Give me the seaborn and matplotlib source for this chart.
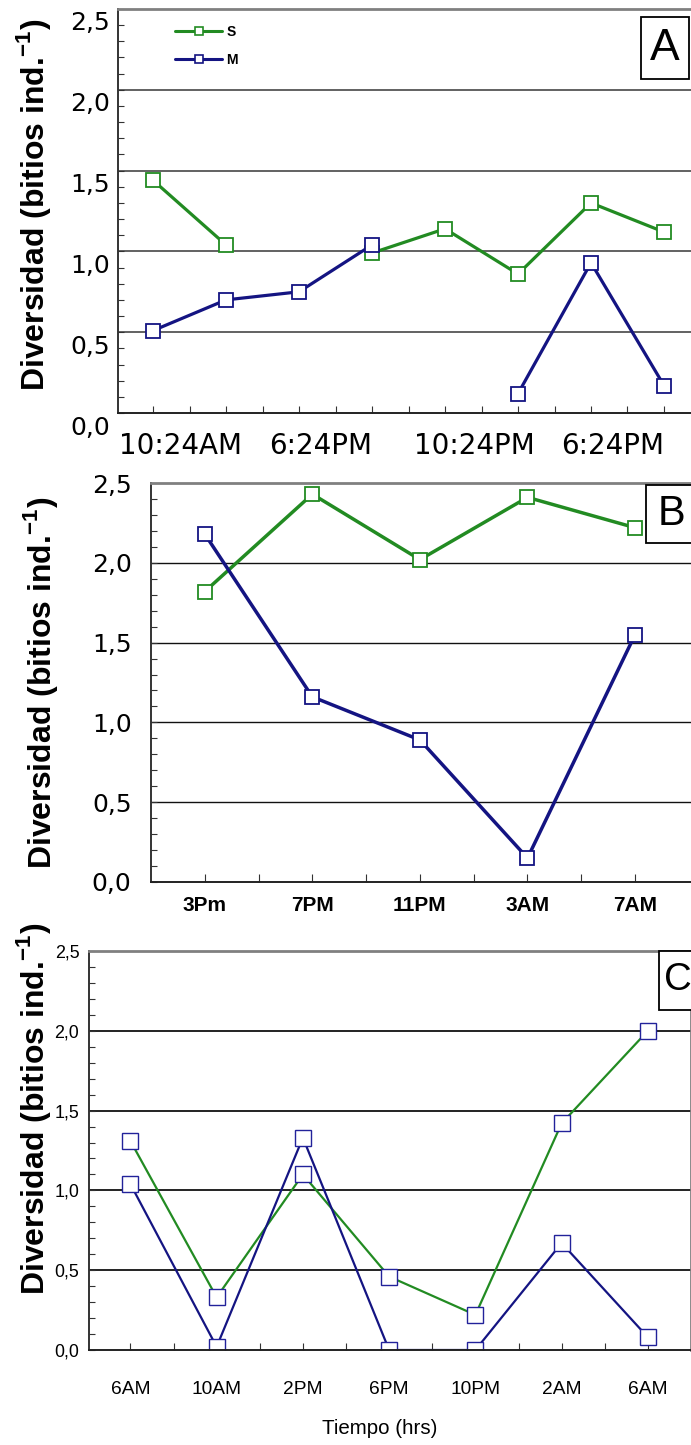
import numpy as np
import pandas as pd
import matplotlib
matplotlib.use("Agg")
import matplotlib.pyplot as plt
import seaborn as sns
from matplotlib import font_manager
from matplotlib.lines import Line2D
from matplotlib.patches import Rectangle
from matplotlib.transforms import ScaledTranslation

# ---------------- data ----------------
# Panel A
a_pos = [0, 1, 2, 3, 4, 5, 6, 7]
a_s = [1.44, 1.04, np.nan, 0.99, 1.14, 0.86, 1.30, 1.12]
a_m = [0.51, 0.70, 0.75, 1.04, np.nan, 0.12, 0.93, 0.17]
a_ticklabels = ["10:24AM", "6:24PM", "10:24PM", "6:24PM"]

# Panel B
b_labels = ["3Pm", "7PM", "11PM", "3AM", "7AM"]
b_s = [1.82, 2.43, 2.02, 2.41, 2.22]
b_m = [2.18, 1.16, 0.89, 0.15, 1.55]

# Panel C
c_labels = ["6AM", "10AM", "2PM", "6PM", "10PM", "2AM", "6AM"]
c_s = [1.31, 0.33, 1.10, 0.46, 0.22, 1.42, 2.00]
c_m = [1.04, 0.02, 1.33, 0.00, 0.00, 0.67, 0.08]

yticks = [0.0, 0.5, 1.0, 1.5, 2.0, 2.5]
ytick_labels = ["0,0", "0,5", "1,0", "1,5", "2,0", "2,5"]

GREEN = "#228B22"
NAVY = "#141482"
NAVY_C = "#22229A"

sns.set_style("white")
plt.rcParams["font.family"] = ["Liberation Sans", "DejaVu Sans"]
plt.rcParams["mathtext.fontset"] = "custom"
plt.rcParams["mathtext.rm"] = "Liberation Sans"
plt.rcParams["mathtext.bf"] = "Liberation Sans:bold"
for k in ["text.color", "axes.labelcolor", "xtick.color", "ytick.color"]:
    plt.rcParams[k] = "black"

_names = {f.name for f in font_manager.fontManager.ttflist}
HAS_NARROW = "Liberation Sans Narrow" in _names
NARROW = ["Liberation Sans Narrow", "Liberation Sans"] if HAS_NARROW else ["Liberation Sans"]
NS = 1.0 if HAS_NARROW else 0.92  # size factor when narrow font missing

YLABEL = r"Diversidad (bitios ind.$^{\mathbf{-1}}$)"

W, H = 691, 1445
fig = plt.figure(figsize=(W / 100, H / 100), dpi=100)


def axes_px(l, t, r, b):
    return fig.add_axes([l / W, 1 - b / H, (r - l) / W, (b - t) / H])


def draw(ax, xs, ys, color, lw, ms, mew, mec=None):
    df = pd.DataFrame({"x": xs, "y": ys})
    df["seg"] = df["y"].isna().cumsum()
    df = df.dropna()
    sns.lineplot(data=df, x="x", y="y", units="seg", estimator=None, sort=False,
                 color=color, linewidth=lw, marker="s", markersize=ms,
                 markerfacecolor="white", markeredgecolor=mec or color,
                 markeredgewidth=mew, ax=ax, legend=False)


def box_label(x0, y0, x1, y1, txt, size, family=None):
    fig.add_artist(Rectangle((x0 / W, 1 - y1 / H), (x1 - x0) / W, (y1 - y0) / H,
                             transform=fig.transFigure, facecolor="white",
                             edgecolor="black", linewidth=1.3, zorder=10))
    fig.text(((x0 + x1) / 2) / W, 1 - ((y0 + y1) / 2) / H, txt, ha="center",
             va="center", fontsize=size, zorder=11,
             family=family if family else plt.rcParams["font.family"])


def style_common(ax, grid_color, grid_lw):
    ax.set_ylim(0, 2.5)
    ax.set_yticks(yticks)
    ax.set_yticks(np.arange(0, 2.51, 0.1), minor=True)
    for v in [0.5, 1.0, 1.5, 2.0]:
        ax.axhline(v, color=grid_color, lw=grid_lw, zorder=0)
    ax.spines["right"].set_visible(False)
    ax.spines["top"].set_color("#808080")
    ax.spines["top"].set_linewidth(2)
    ax.spines["left"].set_color("#333333")
    ax.spines["bottom"].set_color("#222222")
    ax.spines["left"].set_linewidth(1.4)
    ax.spines["bottom"].set_linewidth(1.4)
    ax.set_xlabel("")
    ax.tick_params(axis="y", which="both", direction="in", length=4, width=0.8,
                   color="#333333", left=True)


# ---------------- Panel A ----------------
axA = axes_px(118, 9, 691, 413)
draw(axA, a_pos, a_s, GREEN, 2.3, 10, 1.3)
draw(axA, a_pos, a_m, NAVY, 2.3, 10, 1.3)
style_common(axA, "#555555", 1.3)
axA.set_xlim(-0.48, 7.37)
axA.set_yticklabels(ytick_labels, fontsize=18, family="DejaVu Sans")
axA.tick_params(axis="y", which="major", pad=6)
for lab in axA.get_yticklabels():
    lab.set_transform(lab.get_transform() + ScaledTranslation(0, -0.12, fig.dpi_scale_trans))
axA.set_xticks([0.38, 2.3, 4.4, 6.3])
axA.set_xticklabels(a_ticklabels, fontsize=20, family="DejaVu Sans")
axA.set_xticks(np.arange(0, 7.01, 0.5), minor=True)
axA.tick_params(axis="x", which="major", length=0, pad=14)
axA.tick_params(axis="x", which="minor", direction="in", length=5, width=0.8,
                color="#333333", bottom=True)
axA.set_ylabel(YLABEL, fontsize=23, fontweight="bold", va="center")
axA.yaxis.set_label_coords(-0.148, 0.515)
leg_handles = [
    Line2D([], [], color=GREEN, lw=2.2, marker="s", ms=6, mfc="white", mec=GREEN,
           mew=1.2, label="S"),
    Line2D([], [], color=NAVY, lw=2.2, marker="s", ms=6, mfc="white", mec=NAVY,
           mew=1.2, label="M"),
]
axA.legend(handles=leg_handles, loc="upper left", bbox_to_anchor=(0.09, 0.975),
           frameon=False, prop={"weight": "bold", "size": 10}, handlelength=3.4,
           labelspacing=1.0, handletextpad=0.3, borderaxespad=0)
box_label(641, 17, 689, 79, "A", 32)

# ---------------- Panel B ----------------
axB = axes_px(151, 483, 691, 882)
b_pos = list(range(len(b_labels)))
draw(axB, b_pos, b_s, GREEN, 2.5, 10, 1.3)
draw(axB, b_pos, b_m, NAVY, 2.5, 10, 1.3)
style_common(axB, "#111111", 1.0)
axB.set_xlim(-0.5, 4.52)
axB.set_yticklabels(ytick_labels, fontsize=18, family="DejaVu Sans")
axB.tick_params(axis="y", which="major", pad=14)
axB.set_xticks(b_pos)
axB.set_xticklabels(b_labels, fontsize=15, fontweight="bold")
axB.set_xticks(np.arange(0.5, 4.0, 1.0), minor=True)
axB.tick_params(axis="x", which="both", direction="in", length=6, width=0.8,
                color="#333333", bottom=True)
axB.tick_params(axis="x", which="major", pad=10)
axB.set_ylabel(YLABEL, fontsize=23, fontweight="bold", va="center")
axB.yaxis.set_label_coords(-0.204, 0.5)
box_label(646, 485, 697, 543, "B", 30)

# ---------------- Panel C ----------------
axC = axes_px(89, 951, 691, 1350)
c_pos = list(range(len(c_labels)))
draw(axC, c_pos, c_s, GREEN, 1.6, 12, 1.0, mec=NAVY_C)
draw(axC, c_pos, c_m, NAVY, 1.6, 12, 1.0, mec=NAVY_C)
style_common(axC, "#111111", 1.3)
axC.spines["right"].set_visible(True)
axC.spines["right"].set_color("#808080")
axC.spines["right"].set_linewidth(2)
axC.set_xlim(-0.48, 6.5)
axC.set_yticklabels(ytick_labels, fontsize=14 * NS, family=NARROW)
axC.tick_params(axis="y", which="major", pad=7)
axC.set_xticks(c_pos)
axC.set_xticklabels(c_labels, fontsize=15 * NS, family=NARROW)
axC.set_xticks(np.arange(0.5, 6.0, 1.0), minor=True)
axC.tick_params(axis="x", which="both", direction="in", length=5, width=0.8,
                color="#333333", bottom=True)
axC.tick_params(axis="x", which="major", pad=22)
axC.set_ylabel(YLABEL, fontsize=23, fontweight="bold", va="center")
axC.yaxis.set_label_coords(-0.092, 0.604)
axC.set_xlabel("Tiempo (hrs)", fontsize=16 * NS, family=NARROW)
axC.xaxis.set_label_coords(0.483, -0.172)
box_label(659, 951, 697, 1010, "C", 30 * NS, family=NARROW)

fig.savefig("out.png", dpi=100)
